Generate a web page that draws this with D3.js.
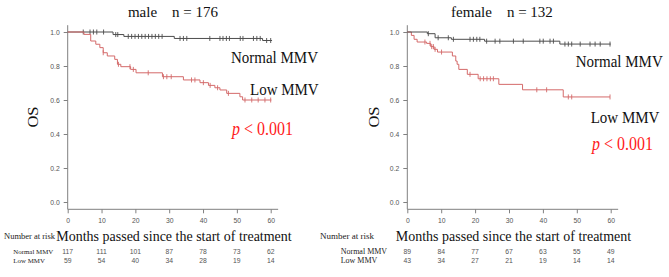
<!DOCTYPE html>
<html>
<head>
<meta charset="utf-8">
<script src="https://cdn.jsdelivr.net/npm/d3@7"></script>
<style>
  html, body { margin: 0; padding: 0; background: #fff; }
  svg { display: block; }
  .serif { font-family: "Liberation Serif", "Times New Roman", serif; }
  .sans { font-family: "Liberation Sans", Arial, sans-serif; }
</style>
</head>
<body>
<svg id="chart" width="669" height="277"></svg>
<script>
// ---------------- DATA ----------------
const timeTicks = [0, 10, 20, 30, 40, 50, 60];
const survTicks = [0.0, 0.2, 0.4, 0.6, 0.8, 1.0];
const groups = ["Normal MMV", "Low MMV"];

// male: step changes [month, survival]
const maleNormalSteps = [[0, 1.0], [13.4, 0.985], [16.6, 0.974], [31.5, 0.962], [57.6, 0.950]];
const maleNormalEnd = 60.4;
const maleNormalCensor = [4.6, 6.6, 7.6, 8.6, 10.6, 14.2, 14.8, 17.9, 18.9, 19.9, 20.9, 21.9, 22.9, 23.9, 24.9, 25.9, 26.9, 27.9, 33.2, 34.2, 35.2, 42.0, 45.0, 45.9, 46.9, 47.8, 51.0, 51.8, 54.9, 55.9, 56.9, 58.8, 60.0];

const maleLowSteps = [[0, 1.0], [4.8, 0.986], [6.8, 0.947], [8.3, 0.928], [9.5, 0.908], [10.5, 0.878], [11.7, 0.859], [13.9, 0.839], [14.7, 0.810], [15.7, 0.796], [18.6, 0.780], [20.2, 0.760], [28.0, 0.737], [34.2, 0.718], [39.1, 0.702], [41.6, 0.686], [43.5, 0.672], [45.0, 0.659], [47.0, 0.639], [50.9, 0.619], [51.7, 0.600]];
const maleLowEnd = 60.2;
const maleLowCensor = [10.5, 15.0, 18.4, 19.4, 23.8, 28.3, 29.3, 30.6, 36.6, 37.6, 40.1, 42.1, 44.3, 47.5, 52.4, 54.4, 56.3, 58.3, 60.0];

// female
const femaleNormalSteps = [[0, 1.0], [5.9, 0.990], [8.2, 0.966], [13.0, 0.957], [22.8, 0.946], [45.0, 0.929]];
const femaleNormalEnd = 60.0;
const femaleNormalCensor = [6.2, 9.1, 12.1, 13.6, 18.5, 19.5, 20.5, 21.4, 23.4, 25.9, 27.3, 31.3, 34.2, 39.1, 40.1, 42.1, 43.1, 46.5, 47.5, 48.5, 51.0, 53.9, 55.4, 56.9, 59.8];

const femaleLowSteps = [[0, 1.0], [1.2, 0.980], [2.0, 0.957], [2.9, 0.941], [5.7, 0.933], [6.9, 0.914], [7.9, 0.898], [8.9, 0.882], [13.3, 0.859], [14.3, 0.829], [14.7, 0.810], [15.2, 0.780], [17.7, 0.751], [20.9, 0.725], [27.0, 0.692], [34.0, 0.660], [46.0, 0.618]];
const femaleLowEnd = 59.8;
const femaleLowCensor = [5.2, 6.7, 7.2, 7.7, 8.2, 10.1, 18.5, 21.5, 22.5, 23.5, 24.5, 25.4, 38.2, 41.1, 47.5, 48.5, 59.8];

// numbers at risk at timeTicks
const maleRiskNormal = [117, 111, 101, 87, 78, 73, 62];
const maleRiskLow = [59, 54, 40, 34, 28, 19, 14];
const femaleRiskNormal = [89, 84, 77, 67, 63, 55, 49];
const femaleRiskLow = [43, 34, 27, 21, 19, 14, 14];

// ---------------- DRAW ----------------
const svg = d3.select("#chart");
svg.append("rect").attr("width", 669).attr("height", 277).attr("fill", "#fff");

const GRAY = "#4d4d4d";
const RED = "#d46a6a";
const AXIS = "#808080";
const TICKTXT = "#555";

function stepValue(steps, t) {
  let v = steps[0][1];
  for (const s of steps) { if (s[0] <= t) v = s[1]; }
  return v;
}

function panel(cfg) {
  const g = svg.append("g");
  const x = d3.scaleLinear().domain([0, 60]).range([cfg.x0, cfg.x60]);
  const y = d3.scaleLinear().domain([0, 1]).range([202, 32]);

  // axis lines (L shape)
  g.append("line").attr("x1", x(0)).attr("x2", x(0)).attr("y1", y(1.04)).attr("y2", y(-0.043))
    .attr("stroke", AXIS).attr("stroke-width", 1);
  g.append("line").attr("x1", x(0)).attr("x2", x(62.2)).attr("y1", y(-0.043)).attr("y2", y(-0.043))
    .attr("stroke", AXIS).attr("stroke-width", 1);

  const yAx = g.append("g").attr("transform", `translate(${x(0)},0)`)
    .call(d3.axisLeft(y).tickValues(survTicks).tickFormat(d3.format(".1f")).tickSize(4).tickPadding(4));
  yAx.select(".domain").remove();
  yAx.selectAll(".tick line").attr("stroke", AXIS);
  yAx.selectAll(".tick text").attr("fill", TICKTXT).attr("font-size", 6.8).attr("class", "sans");

  const xAx = g.append("g").attr("transform", `translate(0,${y(-0.043)})`)
    .call(d3.axisBottom(x).tickValues(timeTicks).tickSize(4).tickPadding(5));
  xAx.select(".domain").remove();
  xAx.selectAll(".tick line").attr("stroke", AXIS);
  xAx.selectAll(".tick text").attr("fill", TICKTXT).attr("font-size", 6.8).attr("class", "sans");

  const line = d3.line().x(d => x(d[0])).y(d => y(d[1])).curve(d3.curveStepAfter);

  function curve(steps, end, censor, color) {
    const pts = steps.concat([[end, steps[steps.length - 1][1]]]);
    g.append("path").attr("d", line(pts)).attr("fill", "none").attr("stroke", color).attr("stroke-width", 1);
    g.selectAll(null).data(censor).enter().append("line")
      .attr("x1", d => x(d)).attr("x2", d => x(d))
      .attr("y1", d => y(stepValue(steps, d)) - 2.5).attr("y2", d => y(stepValue(steps, d)) + 2.5)
      .attr("stroke", color).attr("stroke-width", 0.9);
  }
  if (cfg.redOnTop) {
    curve(cfg.nSteps, cfg.nEnd, cfg.nCensor, GRAY);
    curve(cfg.lSteps, cfg.lEnd, cfg.lCensor, RED);
  } else {
    curve(cfg.lSteps, cfg.lEnd, cfg.lCensor, RED);
    curve(cfg.nSteps, cfg.nEnd, cfg.nCensor, GRAY);
  }

  // title
  g.append("text").attr("class", "serif").attr("x", cfg.titleX).attr("y", 17)
    .attr("text-anchor", "middle").attr("font-size", 15).attr("fill", "#111")
    .style("white-space", "pre").text(cfg.title);

  // OS label
  g.append("text").attr("class", "serif").attr("font-size", 15).attr("fill", "#111")
    .attr("text-anchor", "middle")
    .attr("transform", `translate(${cfg.osX},117) rotate(-90) scale(1.1,1)`).text("OS");

  // annotations (slightly tall lettering as in the reference)
  g.append("text").attr("class", "serif")
    .attr("transform", `translate(${cfg.normX},${cfg.normY}) scale(1,1.18)`)
    .attr("font-size", 15).attr("fill", "#111").text(groups[0]);
  g.append("text").attr("class", "serif")
    .attr("transform", `translate(${cfg.lowX},${cfg.lowY}) scale(1,1.18)`)
    .attr("font-size", 15).attr("fill", "#111").text(groups[1]);
  const pt = g.append("text").attr("class", "serif")
    .attr("transform", `translate(${cfg.pX},${cfg.pY}) scale(1,1.12)`)
    .attr("font-size", 16).attr("fill", "#ff1a1a").style("white-space", "pre");
  pt.append("tspan").attr("font-style", "italic").text("p");
  pt.append("tspan").text(" < 0.001");

  // x label
  g.append("text").attr("class", "serif")
    .attr("transform", `translate(${cfg.xlabX},241) scale(1,1.1)`)
    .attr("text-anchor", "middle").attr("font-size", 14).attr("fill", "#111")
    .text("Months passed since the start of treatment");

  // number at risk
  g.append("text").attr("class", "serif").attr("x", cfg.narX).attr("y", 239)
    .attr("font-size", cfg.narSize).attr("fill", "#222").text("Number at risk");
  g.append("text").attr("class", "serif").attr("x", cfg.rlX).attr("y", 254)
    .attr("font-size", cfg.rlSize).attr("fill", "#222").text(groups[0]);
  g.append("text").attr("class", "serif").attr("x", cfg.rlX).attr("y", 262.5)
    .attr("font-size", cfg.rlSize).attr("fill", "#222").text(groups[1]);

  g.selectAll(null).data(cfg.riskN).enter().append("text").attr("class", "sans")
    .attr("x", (d, i) => x(timeTicks[i])).attr("y", 254).attr("text-anchor", "middle")
    .attr("font-size", 6.8).attr("fill", TICKTXT).text(d => d);
  g.selectAll(null).data(cfg.riskL).enter().append("text").attr("class", "sans")
    .attr("x", (d, i) => x(timeTicks[i])).attr("y", 262.5).attr("text-anchor", "middle")
    .attr("font-size", 6.8).attr("fill", TICKTXT).text(d => d);
}

panel({
  x0: 67.7, x60: 270.7, redOnTop: true,
  nSteps: maleNormalSteps, nEnd: maleNormalEnd, nCensor: maleNormalCensor,
  lSteps: maleLowSteps, lEnd: maleLowEnd, lCensor: maleLowCensor,
  title: "male    n = 176", titleX: 173, osX: 38,
  normX: 231, normY: 63, lowX: 250, lowY: 95, pX: 232, pY: 135,
  xlabX: 174, narX: 4, narSize: 8.5, rlX: 13.3, rlSize: 6.9,
  riskN: maleRiskNormal, riskL: maleRiskLow
});

panel({
  x0: 407.3, x60: 610.7, redOnTop: false,
  nSteps: femaleNormalSteps, nEnd: femaleNormalEnd, nCensor: femaleNormalCensor,
  lSteps: femaleLowSteps, lEnd: femaleLowEnd, lCensor: femaleLowCensor,
  title: "female    n = 132", titleX: 502, osX: 379,
  normX: 575.7, normY: 67, lowX: 590.7, lowY: 123, pX: 592, pY: 150,
  xlabX: 513.5, narX: 320, narSize: 9, rlX: 340.7, rlSize: 8,
  riskN: femaleRiskNormal, riskL: femaleRiskLow
});
</script>
</body>
</html>
